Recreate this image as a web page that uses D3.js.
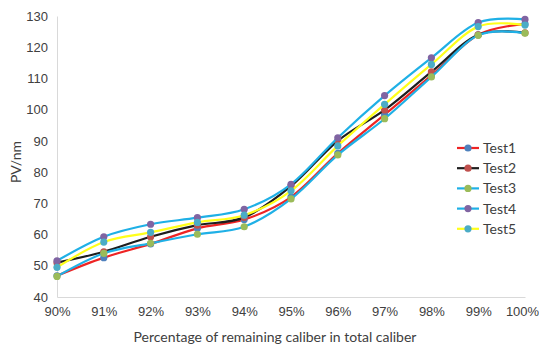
<!DOCTYPE html>
<html>
<head>
<meta charset="utf-8">
<script src="https://cdn.jsdelivr.net/npm/d3@7"></script>
<style>
  html, body { margin: 0; padding: 0; background: #fff; }
  svg { display: block; font-family: Lato, "Open Sans", "Liberation Sans", sans-serif; }
</style>
</head>
<body>
<svg id="chart" width="539" height="346"></svg>
<script>
// Remaining caliber share (categories)
const categories = ["90%", "91%", "92%", "93%", "94%", "95%", "96%", "97%", "98%", "99%", "100%"];

// PV values in nm for each test
const test1 = [46.8, 52.6, 57.0, 62.0, 64.8, 72.0, 86.0, 98.4, 111.0, 124.0, 127.4];
const test2 = [51.0, 54.5, 59.3, 63.0, 65.5, 75.5, 90.0, 99.9, 112.1, 124.0, 124.6];
const test3 = [46.6, 54.0, 57.2, 60.1, 62.5, 71.4, 85.5, 97.1, 110.5, 123.8, 124.5];
const test4 = [51.6, 59.3, 63.3, 65.4, 68.1, 76.1, 91.0, 104.5, 116.6, 127.9, 128.9];
const test5 = [49.5, 57.6, 60.7, 63.9, 66.2, 74.0, 88.4, 101.7, 114.5, 126.6, 127.1];

const seriesNames = ["Test1", "Test2", "Test3", "Test4", "Test5"];
const seriesValues = [test1, test2, test3, test4, test5];
const lineColors = ["#ee2424", "#1e1e1e", "#1fb0e6", "#1fb0e6", "#ffff1a"];
const markerColors = ["#4f81bd", "#c0504d", "#9bbb59", "#8064a2", "#4bacc6"];

const yTicks = [40, 50, 60, 70, 80, 90, 100, 110, 120, 130];

const svg = d3.select("#chart");
const plot = { left: 57, right: 525, top: 16, bottom: 297 };

const x = d3.scalePoint().domain(categories).range([plot.left, plot.right]);
const y = d3.scaleLinear().domain([40, 130]).range([plot.bottom, plot.top]);

const textColor = "#404040";
const axisColor = "#d9d9d9";

// Y axis
const yAxis = svg.append("g")
  .attr("transform", `translate(${plot.left},0)`)
  .call(d3.axisLeft(y).tickValues(yTicks).tickSize(0).tickPadding(9));
yAxis.select(".domain").attr("stroke", axisColor).attr("stroke-width", 1);
yAxis.selectAll("text").attr("fill", textColor).style("font-size", "13px");

// X axis
const xAxis = svg.append("g")
  .attr("transform", `translate(0,${plot.bottom})`)
  .call(d3.axisBottom(x).tickSize(0).tickPadding(10));
xAxis.select(".domain").attr("stroke", axisColor).attr("stroke-width", 1);
xAxis.selectAll("text").attr("fill", textColor).style("font-size", "13px");
// keep the last category label inside the frame
xAxis.selectAll(".tick").filter(d => d === "100%").select("text").attr("dx", "-3");

// Axis titles
svg.append("text")
  .attr("x", 275).attr("y", 342)
  .attr("text-anchor", "middle")
  .attr("fill", textColor)
  .style("font-size", "14px")
  .text("Percentage of remaining caliber in total caliber");

svg.append("text")
  .attr("transform", "translate(21,162) rotate(-90)")
  .attr("text-anchor", "middle")
  .attr("fill", textColor)
  .style("font-size", "14px")
  .text("PV/nm");

// Smoothed series lines with markers
const line = d3.line()
  .x((d, i) => x(categories[i]))
  .y(d => y(d))
  .curve(d3.curveCatmullRom.alpha(0));

seriesValues.forEach((vals, s) => {
  const g = svg.append("g");
  g.append("path")
    .attr("d", line(vals))
    .attr("fill", "none")
    .attr("stroke", lineColors[s])
    .attr("stroke-width", 2.2)
    .attr("stroke-linejoin", "round");
  g.selectAll("circle")
    .data(vals)
    .join("circle")
    .attr("cx", (d, i) => x(categories[i]))
    .attr("cy", d => y(d))
    .attr("r", 3.6)
    .attr("fill", markerColors[s]);
});

// Legend
const legend = svg.append("g").attr("transform", "translate(457,148)");
seriesNames.forEach((name, s) => {
  const row = legend.append("g").attr("transform", `translate(0,${s * 20.2})`);
  row.append("line")
    .attr("x1", 0).attr("x2", 22)
    .attr("stroke", lineColors[s]).attr("stroke-width", 2.2);
  row.append("circle")
    .attr("cx", 11).attr("r", 3.6)
    .attr("fill", markerColors[s]);
  row.append("text")
    .attr("x", 26).attr("dy", "0.35em")
    .attr("fill", textColor)
    .style("font-size", "14px")
    .text(name);
});
</script>
</body>
</html>
